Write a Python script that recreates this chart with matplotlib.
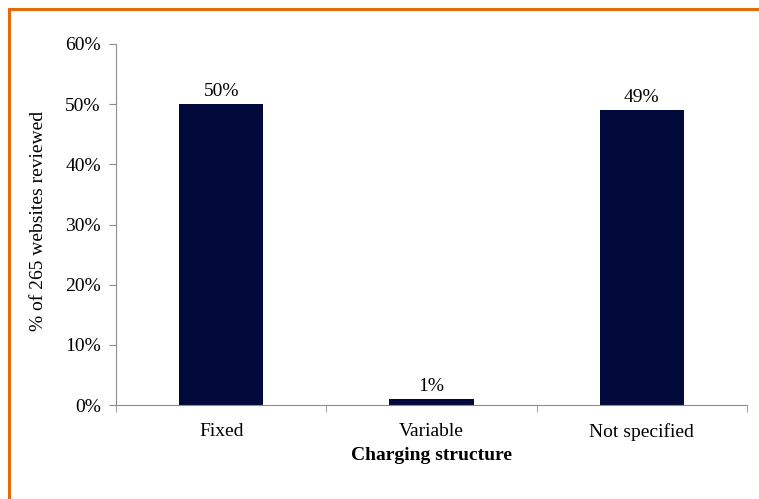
import matplotlib.pyplot as plt
from matplotlib.ticker import PercentFormatter, FixedLocator
from matplotlib.lines import Line2D

plt.rcParams['font.family'] = ['Liberation Serif', 'DejaVu Serif']

# share of reviewed websites by charging structure
categories = ['Fixed', 'Variable', 'Not specified']
shares = [50, 1, 49]
labels = ['50%', '1%', '49%']

bar_color = '#000a3a'
axis_color = '#8c8c8c'
fs = 14

fig = plt.figure(figsize=(7.59, 4.99), dpi=100)
ax = fig.add_axes([0.153, 0.188, 0.831, 0.724])

x = range(len(categories))
bars = ax.bar(x, shares, width=0.4, color=bar_color)
for b, lab in zip(bars, labels):
    ax.text(b.get_x() + b.get_width() / 2, b.get_height() + 0.7, lab,
            ha='center', va='bottom', fontsize=fs)

ax.set_xlim(-0.5, len(categories) - 0.5)
ax.set_ylim(0, 60)
ax.set_yticks(range(0, 61, 10))
ax.yaxis.set_major_formatter(PercentFormatter(decimals=0))
ax.set_xticks(list(x))
ax.set_xticklabels(categories, fontsize=fs)
ax.xaxis.set_minor_locator(FixedLocator([i - 0.5 for i in range(len(categories) + 1)]))
ax.tick_params(axis='x', which='major', length=0, pad=13)
ax.tick_params(axis='x', which='minor', length=5, color=axis_color, direction='out')
ax.tick_params(axis='y', length=5, color=axis_color, labelsize=fs, pad=6)

for side in ['top', 'right']:
    ax.spines[side].set_visible(False)
for side in ['left', 'bottom']:
    ax.spines[side].set_color(axis_color)

ax.set_xlabel('Charging structure', fontsize=fs, fontweight='bold', labelpad=4)
ax.set_ylabel('% of 265 websites reviewed', fontsize=fs)
ax.yaxis.set_label_coords(-0.109, 0.51)

# orange frame along top and left edges
frame = '#e36c09'
fig.add_artist(Line2D([0.0115, 1.0], [0.982, 0.982], color=frame, lw=2.2,
                      transform=fig.transFigure))
fig.add_artist(Line2D([0.0115, 0.0115], [0.0, 0.982], color=frame, lw=2.2,
                      transform=fig.transFigure))

fig.savefig('out.png', dpi=100)
